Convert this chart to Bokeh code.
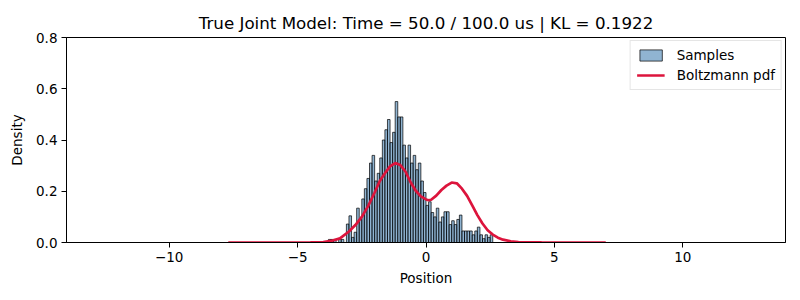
import numpy as np
from bokeh.plotting import figure
from bokeh.models import Range1d, FixedTicker, Legend, LegendItem
from bokeh.embed import file_html
from bokeh.resources import INLINE

# ---- data ----
hist_start = -3.8
bin_width = 0.1
hist_density = [
    0.012, 0.012, 0.012, 0.0, 0.012, 0.012, 0.0,
    0.072, 0.104, 0.02, 0.04, 0.134, 0.09, 0.17, 0.21, 0.25,
    0.31, 0.34, 0.24, 0.27, 0.33, 0.40, 0.44, 0.48, 0.39,
    0.43, 0.55, 0.49, 0.49, 0.38, 0.33, 0.38, 0.31, 0.34,
    0.284, 0.31, 0.24, 0.195, 0.145, 0.159, 0.117, 0.10, 0.134,
    0.08, 0.10, 0.12, 0.12, 0.07, 0.085, 0.07, 0.09, 0.107,
    0.045, 0.045, 0.045, 0.045, 0.03, 0.045, 0.06, 0.03, 0.015,
    0.03, 0.02, 0.03,
]

pdf_x = [-7.7, -5.0, -4.5, -4.0, -3.7, -3.35, -3.0, -2.75, -2.5, -2.25,
         -2.0, -1.8, -1.6, -1.4, -1.2, -1.0, -0.8, -0.6, -0.4, -0.2,
         0.0, 0.1, 0.2, 0.4, 0.6, 0.8, 1.0, 1.2, 1.4, 1.6,
         1.8, 2.0, 2.2, 2.4, 2.6, 2.8, 3.0, 3.3, 3.6, 4.0,
         4.5, 5.0, 7.0]
pdf_y = [0.0, 0.0, 0.0005, 0.002, 0.006, 0.016, 0.043, 0.068, 0.10, 0.143,
         0.195, 0.24, 0.27, 0.297, 0.31, 0.302, 0.277, 0.235, 0.202, 0.18,
         0.168, 0.165, 0.167, 0.183, 0.205, 0.222, 0.234, 0.231, 0.21, 0.182,
         0.145, 0.107, 0.074, 0.048, 0.031, 0.019, 0.011, 0.005, 0.002, 0.0007,
         0.0001, 0.0, 0.0]

x_ticks = [-10, -5, 0, 5, 10]
x_tick_labels = ["\u221210", "\u22125", "0", "5", "10"]
y_ticks = [0.0, 0.2, 0.4, 0.6, 0.8]
y_tick_labels = ["0.0", "0.2", "0.4", "0.6", "0.8"]
title_text = "True Joint Model: Time = 50.0 / 100.0 us | KL = 0.1922"

# ---- figure ----
FONT = "DejaVu Sans"
p = figure(width=786, height=286, output_backend="svg", toolbar_location=None,
           x_range=Range1d(-14, 14), y_range=Range1d(0, 0.8))
p.frame_width = 719
p.frame_height = 205
p.min_border_left = 66
p.min_border_right = 1
p.min_border_top = 37
p.min_border_bottom = 44

p.title.text = title_text
p.title.align = "center"
p.title.text_font = FONT
p.title.text_font_size = "16.7px"
p.title.text_font_style = "normal"
p.title.text_color = "black"

p.grid.visible = False
p.outline_line_color = "black"
p.outline_line_width = 1
p.background_fill_color = "white"
p.border_fill_color = "white"

for ax in (p.xaxis, p.yaxis):
    ax.axis_line_color = "black"
    ax.major_tick_line_color = "black"
    ax.major_tick_out = 5
    ax.major_tick_in = 0
    ax.minor_tick_line_color = None
    ax.major_label_text_font = FONT
    ax.major_label_text_font_size = "13.5px"
    ax.major_label_text_color = "black"
    ax.axis_label_text_font = FONT
    ax.axis_label_text_font_size = "13.5px"
    ax.axis_label_text_font_style = "normal"
    ax.axis_label_text_color = "black"
    ax.major_label_standoff = 4

p.xaxis.ticker = FixedTicker(ticks=x_ticks)
p.yaxis.ticker = FixedTicker(ticks=y_ticks)
p.xaxis.major_label_overrides = dict(zip(x_ticks, x_tick_labels))
p.yaxis.major_label_overrides = dict(zip(y_ticks, y_tick_labels))
p.xaxis.axis_label = "Position"
p.yaxis.axis_label = "Density"
p.xaxis.axis_label_standoff = 5
p.yaxis.axis_label_standoff = 8

n = len(hist_density)
lefts = hist_start + bin_width * np.arange(n)
rights = lefts + bin_width
bars = p.quad(left=lefts, right=rights, bottom=0, top=hist_density,
              fill_color="steelblue", fill_alpha=0.6,
              line_color="black", line_alpha=0.7, line_width=1)

curve = p.line(pdf_x, pdf_y, line_color="crimson", line_width=2.7)

legend = Legend(items=[LegendItem(label="Samples", renderers=[bars]),
                       LegendItem(label="Boltzmann pdf", renderers=[curve])],
                location="top_right")
legend.label_text_font = FONT
legend.label_text_font_size = "13.5px"
legend.label_text_color = "black"
legend.glyph_width = 28
legend.glyph_height = 14
legend.label_standoff = 12
legend.spacing = 4
legend.padding = 6
legend.margin = 3
legend.border_line_color = "#cccccc"
legend.border_line_width = 1
legend.background_fill_alpha = 0.8
legend.label_height = 16
p.add_layout(legend)

open("out.html", "w").write(file_html(p, INLINE))
